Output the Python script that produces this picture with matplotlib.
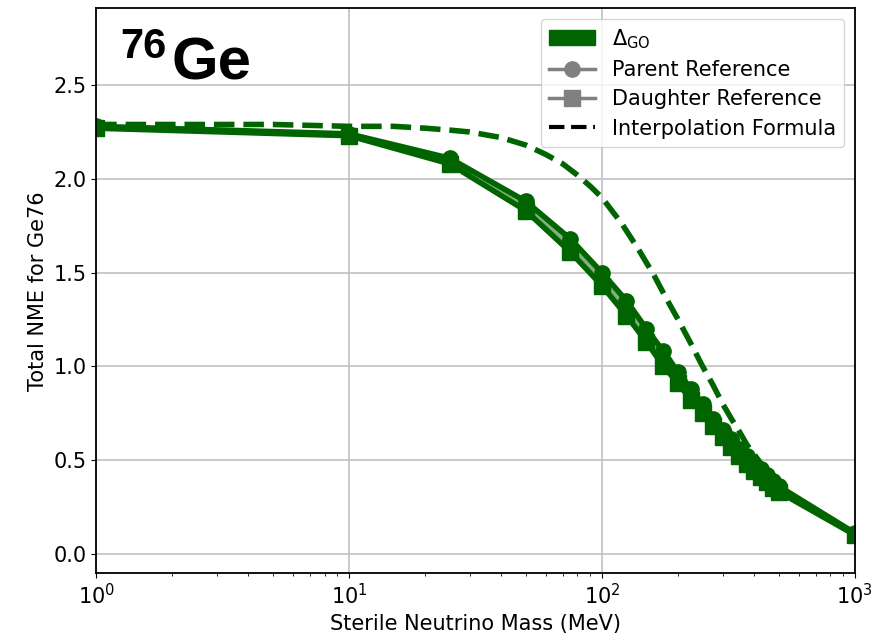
import matplotlib
matplotlib.use("Agg")
import matplotlib.pyplot as plt
from matplotlib.patches import Patch
from matplotlib.lines import Line2D

# Sterile neutrino masses (MeV)
mass = [1, 10, 25, 50, 75, 100, 125, 150, 175, 200, 225, 250, 275, 300,
        325, 350, 375, 400, 425, 450, 475, 500, 1000]
parent = [2.28, 2.24, 2.11, 1.88, 1.68, 1.50, 1.35, 1.20, 1.08, 0.97, 0.88,
          0.80, 0.72, 0.66, 0.61, 0.56, 0.52, 0.48, 0.45, 0.42, 0.39, 0.36, 0.11]
daughter = [2.27, 2.23, 2.08, 1.83, 1.61, 1.43, 1.27, 1.13, 1.00, 0.91, 0.82,
            0.75, 0.68, 0.62, 0.57, 0.52, 0.48, 0.44, 0.41, 0.38, 0.35, 0.33, 0.10]

# Interpolation formula curve
interp_mass = [1, 2, 5, 10, 15, 20, 25, 30, 40, 50, 60, 70, 80, 90, 100, 120,
               140, 160, 180, 200, 225, 250, 275, 300, 325, 350, 375, 400,
               425, 450, 475, 500]
interp_nme = [2.29, 2.29, 2.29, 2.28, 2.28, 2.27, 2.26, 2.25, 2.22, 2.18,
              2.13, 2.08, 2.02, 1.96, 1.90, 1.76, 1.62, 1.49, 1.36, 1.25,
              1.12, 1.00, 0.90, 0.80, 0.72, 0.65, 0.58, 0.53, 0.48, 0.44,
              0.40, 0.37]

green = "#006400"

fig = plt.figure(figsize=(8.74, 6.37), dpi=100)
ax = fig.add_axes([0.11, 0.1, 0.868, 0.887])

ax.fill_between(mass, daughter, parent, color=green, alpha=0.5, linewidth=0)
ax.plot(interp_mass, interp_nme, color=green, linestyle="--", linewidth=4)
ax.plot(mass, parent, color=green, marker="o", markersize=11, linewidth=4)
ax.plot(mass, daughter, color=green, marker="s", markersize=11, linewidth=4)

ax.set_xscale("log")
ax.set_xlim(1, 1000)
ax.set_ylim(-0.105, 2.91)
ax.set_yticks([0.0, 0.5, 1.0, 1.5, 2.0, 2.5])
ax.grid(True, which="major", color="#c0c0c0", linewidth=1.2)
ax.tick_params(labelsize=15)
for s in ax.spines.values():
    s.set_linewidth(1.3)

ax.set_xlabel("Sterile Neutrino Mass (MeV)", fontsize=15)
ax.set_ylabel("Total NME for Ge76", fontsize=15)

fig.text(120 / 874, 1 - 58 / 637, "76", fontsize=30, fontweight="bold",
         family="Liberation Sans", ha="left", va="baseline")
fig.text(172 / 874, 1 - 80 / 637, "Ge", fontsize=43, fontweight="bold",
         family="Liberation Sans", ha="left", va="baseline")

handles = [
    Patch(facecolor=green, edgecolor=green, label=r"$\Delta_{\mathrm{GO}}$"),
    Line2D([0], [0], color="gray", marker="o", markersize=11, linewidth=2.5,
           label="Parent Reference"),
    Line2D([0], [0], color="gray", marker="s", markersize=11, linewidth=2.5,
           label="Daughter Reference"),
    Line2D([0], [0], color="black", linestyle="--", linewidth=3,
           label="Interpolation Formula"),
]
ax.legend(handles=handles, loc="upper right", fontsize=15,
          handlelength=2.2, borderpad=0.4, labelspacing=0.45)

fig.savefig("out.png", dpi=100)
